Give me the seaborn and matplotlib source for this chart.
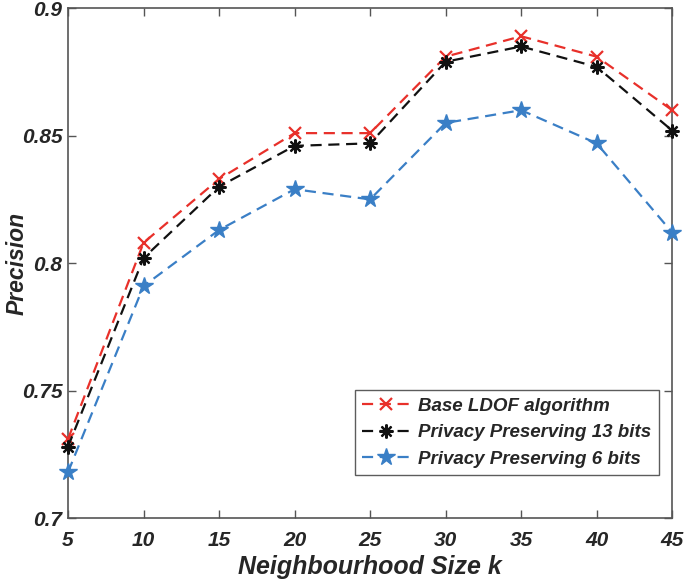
import numpy as np
import pandas as pd
import seaborn as sns
import matplotlib.pyplot as plt

# values
k_values = [5, 10, 15, 20, 25, 30, 35, 40, 45]
base_ldof = [0.731, 0.808, 0.833, 0.851, 0.851, 0.881, 0.889, 0.881, 0.860]
pp_13bits = [0.728, 0.802, 0.830, 0.846, 0.847, 0.879, 0.885, 0.877, 0.852]
pp_6bits = [0.718, 0.791, 0.813, 0.829, 0.825, 0.855, 0.860, 0.847, 0.812]
series_names = ["Base LDOF algorithm", "Privacy Preserving 13 bits", "Privacy Preserving 6 bits"]

df = pd.DataFrame({
    "k": k_values * 3,
    "precision": base_ldof + pp_13bits + pp_6bits,
    "method": np.repeat(series_names, len(k_values)),
})

sns.set_style("white")
plt.rcParams['font.family'] = ['Liberation Sans', 'DejaVu Sans']

fig = plt.figure(figsize=(6.85, 5.88), dpi=100)
ax = fig.add_axes([0.0993, 0.119, 0.882, 0.867])

styles = {
    "Base LDOF algorithm": dict(color="#e8302a", marker="x", ms=9, mew=1.6),
    "Privacy Preserving 13 bits": dict(color="#111111", marker=(8, 2, 0), ms=10, mew=1.6),
    "Privacy Preserving 6 bits": dict(color="#3a7fc6", marker="*", ms=13, mew=1.0),
}

for name in series_names:
    st = styles[name]
    sub = df[df["method"] == name]
    sns.lineplot(data=sub, x="k", y="precision", ax=ax, label=name,
                 color=st["color"], linestyle=(0, (5, 3)), linewidth=1.6,
                 marker=st["marker"], markersize=st["ms"], markeredgewidth=st["mew"],
                 markeredgecolor=st["color"], markerfacecolor=st["color"],
                 clip_on=False, zorder=3)

ax.set_xlim(5, 45)
ax.set_ylim(0.7, 0.9)
ax.set_xticks(k_values)
ax.set_yticks([0.7, 0.75, 0.8, 0.85, 0.9])
ax.set_yticklabels(["0.7", "0.75", "0.8", "0.85", "0.9"])

tick_font = dict(fontsize=15, fontweight="bold", fontstyle="italic", color="#262626")
for lab in ax.get_xticklabels() + ax.get_yticklabels():
    lab.set(**tick_font)

ax.tick_params(direction="in", length=6, width=1, color="#555555",
               top=True, right=True, bottom=True, left=True)
ax.tick_params(axis="x", pad=9)
ax.tick_params(axis="y", pad=4)
for sp in ax.spines.values():
    sp.set_color("#555555")
    sp.set_linewidth(1.2)

ax.set_xlabel("Neighbourhood Size k", fontsize=18, fontweight="bold",
              fontstyle="italic", color="#262626", labelpad=4)
ax.set_ylabel("Precision", fontsize=16.5, fontweight="bold",
              fontstyle="italic", color="#262626")
ax.yaxis.set_label_coords(-0.066, 0.5)

leg = ax.legend(loc="lower right", bbox_to_anchor=(0.978, 0.084), borderaxespad=0,
                frameon=True, fancybox=False, handlelength=2.6, handletextpad=0.4,
                prop=dict(size=13.5, weight="bold", style="italic"))
leg.get_frame().set_edgecolor("#333333")
leg.get_frame().set_linewidth(1.0)

fig.savefig("out.png", dpi=100)
